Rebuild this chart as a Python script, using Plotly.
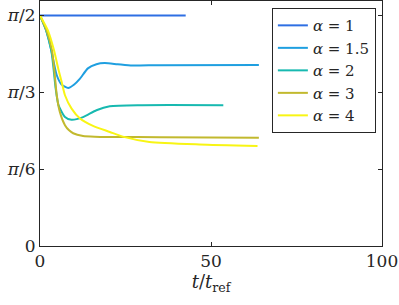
import plotly.graph_objects as go

# Data
t_a1 = [0, 42.6]
v_a1 = [1.5708, 1.5708]

t_a15 = [0, 1.8, 3.3, 4.9, 6.3, 8.25, 10.0, 11.7, 14.0, 16.5, 18.9, 22.7, 27, 35, 64]
v_a15 = [1.5708, 1.469, 1.333, 1.163, 1.100, 1.076, 1.100, 1.140, 1.210, 1.238, 1.246, 1.238, 1.229, 1.232, 1.233]

t_a2 = [0, 1.8, 3.3, 4.0, 4.6, 5.4, 7.3, 9.2, 12.6, 16.5, 20.4, 30, 53.6]
v_a2 = [1.5708, 1.469, 1.333, 1.200, 1.070, 0.960, 0.879, 0.860, 0.878, 0.925, 0.952, 0.959, 0.959]

t_a3 = [0, 1.9, 3.5, 4.3, 4.9, 5.8, 7.3, 8.5, 9.7, 12.6, 16.0, 20.4, 35, 64]
v_a3 = [1.5708, 1.469, 1.333, 1.170, 1.027, 0.913, 0.823, 0.788, 0.768, 0.750, 0.745, 0.743, 0.741, 0.737]

t_a4 = [0, 2.3, 4.1, 5.45, 6.3, 7.3, 9.24, 11.7, 15.5, 20.4, 24.2, 32, 46.6, 63.6]
v_a4 = [1.5708, 1.469, 1.333, 1.197, 1.120, 1.027, 0.936, 0.868, 0.818, 0.777, 0.745, 0.709, 0.692, 0.682]

labels = ["<i>α</i> = 1", "<i>α</i> = 1.5", "<i>α</i> = 2", "<i>α</i> = 3", "<i>α</i> = 4"]
colors = ["#2e6fe3", "#1f9fe0", "#17b9b0", "#c2b92e", "#f8f514"]

x_ticks = [0, 50, 100]
x_ticklabels = ["0", "50", "100"]
y_ticks = [0, 0.5236, 1.0472, 1.5708]
y_ticklabels = ["0", "<i>π</i>/6", "<i>π</i>/3", "<i>π</i>/2"]

series = [(t_a1, v_a1), (t_a15, v_a15), (t_a2, v_a2), (t_a3, v_a3), (t_a4, v_a4)]

font = "DejaVu Serif"
fig = go.Figure()
for (t, v), lab, c in zip(series, labels, colors):
    fig.add_trace(go.Scatter(x=t, y=v, mode="lines", name=lab,
                             line=dict(color=c, width=2, shape="spline", smoothing=0.6)))

axis_common = dict(showline=True, linecolor="#262626", linewidth=1, mirror="allticks",
                   ticks="inside", ticklen=4, tickcolor="#262626", showgrid=False,
                   zeroline=False, automargin=False,
                   tickfont=dict(family=font, size=17, color="#262626"))

fig.update_layout(
    width=399, height=305,
    margin=dict(l=40, r=17, t=1, b=59),
    paper_bgcolor="white", plot_bgcolor="white",
    font=dict(family=font, size=16, color="#262626"),
    xaxis=dict(range=[0, 100], tickvals=x_ticks, ticktext=x_ticklabels,
               title=dict(text="<i>t</i>/<i>t</i><sub>ref</sub>", font=dict(family=font, size=18), standoff=4),
               **axis_common),
    yaxis=dict(range=[0, 1.669], tickvals=y_ticks, ticktext=y_ticklabels, **axis_common),
    legend=dict(x=0.678, y=0.971, xanchor="left", yanchor="top",
                bordercolor="#262626", borderwidth=1, bgcolor="white",
                font=dict(family=font, size=15), tracegroupgap=0),
    showlegend=True,
)

fig.write_html("out.html", config={"displayModeBar": False},
               post_script="document.body.style.margin='0';")
